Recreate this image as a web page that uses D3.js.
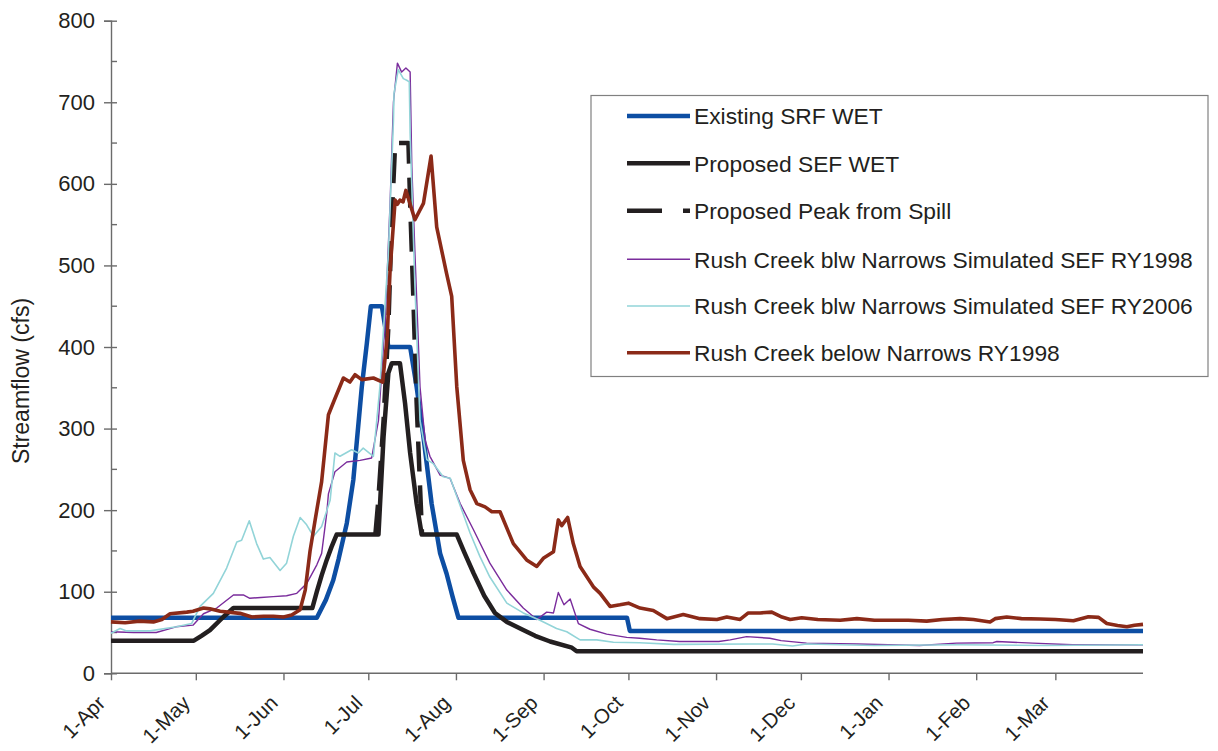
<!DOCTYPE html>
<html>
<head>
<meta charset="utf-8">
<script src="https://cdn.jsdelivr.net/npm/d3@7/dist/d3.min.js"></script>
<style>
  body { margin: 0; background: #fff; }
  svg { display: block; font-family: "Liberation Sans", Arial, sans-serif; }
</style>
</head>
<body>
<svg id="chart" width="1218" height="751"></svg>
<script>
// ---- data (day offset from 1-Apr, streamflow cfs) ----
const monthLabels = ["1-Apr","1-May","1-Jun","1-Jul","1-Aug","1-Sep","1-Oct","1-Nov","1-Dec","1-Jan","1-Feb","1-Mar"];
const monthDays   = [0, 30, 61, 91, 122, 153, 183, 214, 244, 275, 306, 334];
const yTicks = [0, 100, 200, 300, 400, 500, 600, 700, 800];

const existingSRF = [[0,68],[72.8,68],[76,90],[78.6,114],[80.5,140],[83.4,184],[85.7,237],[88.7,351],[90.5,405],[91.9,450],[95.8,450],[98.1,400],[105.8,400],[108.1,351],[110.5,290],[113.4,208],[116.4,147],[118.7,122],[120.8,94],[122.9,68],[182.5,68],[183.5,52],[365,52]];

const proposedSEF = [[0,40],[29.3,40],[32,46],[35,53],[39.7,69],[43.3,80],[71.2,80],[72.8,100],[74.5,120],[76.3,139],[78,155],[79.8,170],[94.6,170],[96.4,290],[98.1,368],[99.3,380],[102.2,380],[104,331],[105.8,270],[108.1,208],[109.9,170],[122.3,170],[125,148],[128.2,123],[132,95],[135.8,74],[140,63],[145.8,53],[150,46],[155.3,39],[163,31.4],[164.7,27],[365,27]];

const peakSpill = [[93.5,170],[94.5,210],[96.4,310],[98.1,425],[99.3,556],[100.5,650],[105.2,650],[105.8,576],[107,453],[108.1,331],[109.3,229],[110,170]];

const sim1998 = [[0,51],[8,50],[16,50],[23,57],[29,59],[32.7,73],[37.4,80],[43.3,96],[46.8,96],[49.1,92],[53,93],[57.4,94],[62.1,95],[65.7,98],[69.2,110],[72.8,133],[74.5,147],[76.3,196],[76.9,220],[79.2,247],[83.4,259],[88.1,261],[92.2,264],[94.6,310],[97,433],[98.7,576],[99.9,700],[101.3,748],[102.8,737],[104.3,742],[105.8,737],[106.4,621],[107.5,515],[109.3,351],[111.1,286],[112.8,266],[116.4,243],[119.9,239],[123.5,208],[128.2,176],[134,135],[140,102],[145.8,80],[150.6,66],[154.1,75],[156.5,74],[158.2,99],[160.2,84],[162.4,91],[165.3,61],[169.4,54],[175.3,48],[182.4,44],[187,43],[193,41],[201,39],[215,39],[219,41],[224.8,45],[233,43],[237,40],[246,37],[263.8,36],[286,34],[299,37],[312,37.5],[313.3,39],[326,37],[340,35],[365,35]];

const sim2006 = [[0,49],[3.2,55],[5.5,52],[13.8,52],[23.2,57],[28.5,61],[31.5,82],[36.2,98],[40.9,129],[44.5,161],[46.2,163],[48.9,187],[51.5,159],[53.9,140],[56.2,142],[59.8,126],[62.1,135],[64.5,168],[66.9,191],[69.2,182],[71.6,168],[74.5,180],[77.5,212],[79.2,270],[81,266],[85.1,274],[87.5,270],[89.2,276],[92.8,266],[95.1,351],[98.1,515],[99.9,678],[100.1,711],[101.6,740],[103.4,729],[104.6,727],[105.5,725],[105.8,662],[107.5,474],[109.3,310],[111.7,262],[114,257],[117.5,241],[120,239],[122.3,217],[127,172],[130.5,143],[134,118],[140,86],[145.8,74],[151.7,65],[157.6,55],[161.2,51],[165.9,41],[171.8,41],[177.7,38],[187,37.5],[199,35.5],[226,36],[234,36],[241,33.5],[246,36],[270,34],[300,35],[330,34],[365,35]];

const obs1998 = [[0,63],[5,62],[10,64],[15,63],[18,66],[20.9,73],[26.8,75],[29,76],[32.7,80],[35,79],[38.6,76],[45.6,73.5],[49.8,69],[54,70],[57.4,70],[61,69],[63.9,71.5],[66.9,78],[68.7,102],[70.4,150],[72.2,188],[74.5,235],[76.9,317],[79,335],[82.2,362],[84.5,357],[86.3,366],[88.7,360],[92.8,362],[96.1,357],[97.7,413],[98.7,494],[100.5,580],[101.3,575],[102.2,580],[103.3,578],[104.3,592],[107.5,556],[110.5,576],[113.2,634],[115.2,547],[118.7,490],[120.5,462],[122.3,351],[124.6,261],[127,225],[129.4,208],[132.3,204],[134.7,198],[137.6,198],[142.3,159],[147,139],[150.6,131],[152.9,141],[156.5,149],[158.2,188],[159.4,181],[161.5,191],[163.5,159],[165.9,131],[170.6,106],[173,98],[176.5,82],[180,84],[183,86],[187.1,80],[191.8,77],[196.6,67],[202.4,72],[208.3,67],[214.3,66],[217.8,69],[222.5,66],[225.4,74],[229.6,74],[233.7,75],[237.3,69],[240.2,66],[244.3,68],[250,66],[257.9,65],[263.8,67],[270,65],[275.6,65],[282,65],[288.5,64],[294,66],[300.3,67],[305,66],[310.9,63],[312.7,67],[316.8,69],[322,67],[328.6,66.5],[334,66],[340.4,64.5],[345.7,69.4],[349.3,68.6],[352.2,61],[356,58.5],[359.3,57],[362,59],[365,60]];

const seriesNames = ["Existing SRF WET","Proposed SEF WET","Proposed Peak from Spill","Rush Creek blw Narrows Simulated SEF RY1998","Rush Creek blw Narrows Simulated SEF RY2006","Rush Creek below Narrows RY1998"];

// ---- layout ----
const svg = d3.select("#chart");
const x = d3.scaleLinear().domain([0, 365]).range([111, 1143]);
const y = d3.scaleLinear().domain([0, 800]).range([673.3, 20.7]);
const axisColor = "#6b6b6b";
const textColor = "#231f20";

// y axis
const yAxis = d3.axisLeft(y).tickValues(yTicks).tickSize(7).tickPadding(10);
const gy = svg.append("g").attr("transform", "translate(111,0)").call(yAxis);
gy.select(".domain").attr("stroke", axisColor).attr("stroke-width", 1.4);
gy.selectAll(".tick line").attr("stroke", axisColor).attr("stroke-width", 1.4).attr("x2", 6).attr("x1", -7);
gy.selectAll(".tick text").attr("fill", textColor).attr("font-size", 22).attr("x", -16);
// minor ticks
svg.append("g").selectAll("line").data(d3.range(50, 800, 100)).join("line")
  .attr("x1", 111).attr("x2", 117).attr("y1", d => y(d)).attr("y2", d => y(d))
  .attr("stroke", axisColor).attr("stroke-width", 1.4);

// x axis
const xAxis = d3.axisBottom(x).tickValues(monthDays).tickSize(7).tickFormat((d, i) => monthLabels[i]);
const gx = svg.append("g").attr("transform", `translate(0,${y(0)})`).call(xAxis);
gx.select(".domain").attr("stroke", axisColor).attr("stroke-width", 1.4).attr("d", `M${x(0)},0H${x(365)}`);
gx.selectAll(".tick line").attr("stroke", axisColor).attr("stroke-width", 1.4);
gx.selectAll(".tick text")
  .attr("fill", textColor).attr("font-size", 20.5)
  .attr("text-anchor", "end")
  .attr("y", 0).attr("dy", 0)
  .attr("transform", "translate(-5,31) rotate(-45)");

// y label
svg.append("text")
  .attr("transform", "translate(29,381) rotate(-90)")
  .attr("text-anchor", "middle")
  .attr("font-size", 23)
  .attr("fill", textColor)
  .text("Streamflow (cfs)");

// ---- series ----
const line = d3.line().x(d => x(d[0])).y(d => y(d[1]));
const styles = [
  { data: existingSRF, color: "#0d4ea3", width: 4.5, dash: null },
  { data: proposedSEF, color: "#231f20", width: 4.5, dash: null },
  { data: peakSpill,   color: "#231f20", width: 4.5, dash: "30,14" },
  { data: sim1998,     color: "#7a2c9c", width: 1.4, dash: null },
  { data: sim2006,     color: "#92d4d8", width: 1.6, dash: null },
  { data: obs1998,     color: "#8b2a18", width: 3.6, dash: null }
];
const plot = svg.append("g");
styles.forEach(s => {
  plot.append("path").datum(s.data)
    .attr("d", line)
    .attr("fill", "none")
    .attr("stroke", s.color)
    .attr("stroke-width", s.width)
    .attr("stroke-linejoin", "round")
    .attr("stroke-dasharray", s.dash);
});

// ---- legend ----
const lg = svg.append("g");
lg.append("rect").attr("x", 591).attr("y", 95.5).attr("width", 617).attr("height", 281)
  .attr("fill", "#fff").attr("stroke", "#808080").attr("stroke-width", 1.2);
const rowY = [116, 163.3, 210.7, 259.3, 306, 352.7];
styles.forEach((s, i) => {
  lg.append("line").attr("x1", 627).attr("x2", 690).attr("y1", rowY[i]).attr("y2", rowY[i])
    .attr("stroke", s.color).attr("stroke-width", s.width)
    .attr("stroke-dasharray", s.dash ? "35,21" : null);
  lg.append("text").attr("x", 694).attr("y", rowY[i]).attr("dy", "0.36em")
    .attr("font-size", 22.8).attr("fill", textColor).text(seriesNames[i]);
});
</script>
</body>
</html>
